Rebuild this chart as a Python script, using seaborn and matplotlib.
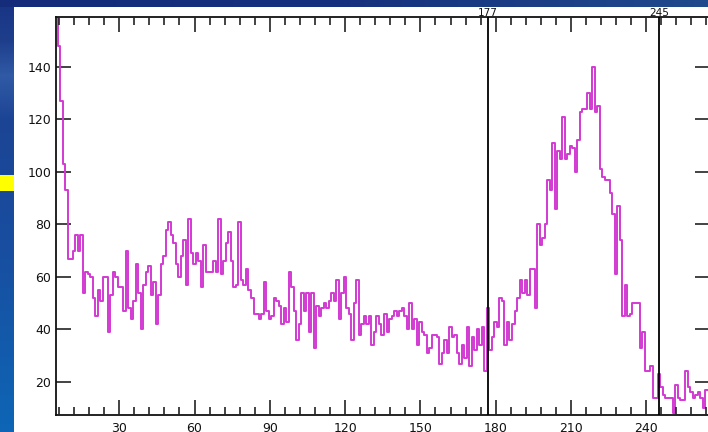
import numpy as np
import matplotlib
matplotlib.use('Agg')
import matplotlib.pyplot as plt
import seaborn as sns
from matplotlib.ticker import FixedLocator

# ---------------- data ----------------
channels = list(range(5, 265))
counts = [
    160, 148, 127, 103, 93, 67, 67, 70, 76, 70, 76,                      # 5-15
    54, 62, 61, 60, 52, 45, 55, 51, 60, 60, 39, 53, 62, 60, 56,          # 16-30
    56, 47, 70, 48, 44, 51, 65, 54, 40, 57, 62, 64, 53, 58, 42,          # 31-45
    53, 65, 68, 78, 81, 76, 73, 65, 60, 68, 74, 57, 82, 69, 65,          # 46-60
    69, 66, 56, 72, 62, 62, 62, 66, 62, 82, 61, 66, 73, 77, 66,          # 61-75
    56, 57, 81, 59, 57, 63, 55, 52, 46, 46, 44, 46, 58, 47, 44,          # 76-90
    45, 52, 51, 49, 42, 48, 43, 62, 56, 47, 36, 42, 54, 47, 54,          # 91-105
    39, 54, 33, 49, 45, 48, 50, 48, 51, 54, 51, 59, 44, 54, 60,          # 106-120
    48, 46, 36, 50, 59, 38, 42, 45, 42, 45, 34, 39, 45, 42, 38,          # 121-135
    46, 39, 44, 45, 47, 45, 47, 48, 45, 40, 50, 40, 44, 34, 43,          # 136-150
    39, 38, 31, 33, 38, 38, 37, 27, 31, 36, 31, 41, 37, 38, 31,          # 151-165
    27, 34, 29, 41, 26, 37, 32, 40, 34, 41, 24, 48, 32, 37, 43,          # 166-180
    41, 52, 51, 34, 43, 36, 42, 47, 52, 59, 54, 59, 53, 63, 63,          # 181-195
    48, 80, 72, 75, 80, 97, 93, 111, 86, 108, 105, 121, 105, 107, 110,   # 196-210
    109, 100, 112, 123, 124, 124, 130, 124, 140, 123, 125, 101, 98, 97, 97,  # 211-225
    92, 84, 61, 87, 74, 45, 57, 45, 46, 50, 50, 50, 33, 39, 24,          # 226-240
    24, 26, 14, 14, 23, 18, 15, 14, 14, 14, 8, 19, 14, 13, 13,           # 241-255
    24, 18, 16, 14, 15, 16, 14, 10, 17,                                  # 256-264
]
x_ticks = [30, 60, 90, 120, 150, 180, 210, 240]
x_minor_ticks = [6, 12, 18, 24, 36, 42, 48, 54, 66, 72, 78, 84, 96, 102, 108, 114,
                 126, 132, 138, 144, 156, 162, 168, 174, 186, 192, 198, 204,
                 216, 222, 228, 234, 246, 252, 258, 264]
y_ticks = [20, 40, 60, 80, 100, 120, 140]
marker_positions = [177, 245]
marker_labels = ['177', '245']

# ---------------- style ----------------
sns.set_theme(style='white')
plt.rcParams['font.family'] = ['DejaVu Sans']

W, H = 708, 432
fig = plt.figure(figsize=(W / 100, H / 100), dpi=100)

# slide background: blue gradient strips, white page, yellow marker
yy = np.arange(H)
xx = np.arange(W)
left_prof = np.stack([
    np.interp(yy, [0, 40, 75, 120, 250, 432], [24, 30, 48, 28, 24, 14]),
    np.interp(yy, [0, 40, 75, 120, 250, 432], [52, 62, 90, 68, 78, 102]),
    np.interp(yy, [0, 40, 75, 120, 250, 432], [132, 140, 165, 148, 160, 182]),
], axis=1) / 255.0
top_prof = np.stack([
    np.interp(xx, [0, 350, 708], [20, 22, 32]),
    np.interp(xx, [0, 350, 708], [44, 50, 74]),
    np.interp(xx, [0, 350, 708], [122, 126, 140]),
], axis=1) / 255.0
bg = np.ones((H, W, 3))
bg[:, :14, :] = left_prof[:, None, :]
bg[:7, :, :] = top_prof[None, :, :]
bg[175:191, :14, :] = [1.0, 1.0, 0.0]
bgax = fig.add_axes([0, 0, 1, 1], zorder=-1)
bgax.imshow(bg, aspect='auto', extent=(0, W, H, 0), interpolation='nearest')
bgax.set_axis_off()

# plot area
left_px, right_px, top_px, bottom_px = 55.5, 710, 17.3, 415
ax = fig.add_axes([left_px / W, (H - bottom_px) / H,
                   (right_px - left_px) / W, (bottom_px - top_px) / H])

sns.histplot(x=channels, weights=counts, discrete=True, element='step', fill=False,
             color='#d23ad2', linewidth=1.4, ax=ax)

for pos in marker_positions:
    ax.axvline(pos, color='black', lw=1.3, zorder=3)
for pos, lab in zip(marker_positions, marker_labels):
    ax.text(pos, 1.004, lab, transform=ax.get_xaxis_transform(), ha='center',
            va='baseline', fontsize=7.5, color='#111111', clip_on=False)

ax.set_xlim(4.6, 265.4)
ax.set_ylim(7.4, 158.9)
ax.set_xlabel('')
ax.set_ylabel('')

ax.xaxis.set_major_locator(FixedLocator(x_ticks))
ax.yaxis.set_major_locator(FixedLocator(y_ticks))
ax.set_xticklabels([str(v) for v in x_ticks])
ax.set_yticklabels([str(v) for v in y_ticks])

# x tick marks (inward, top and bottom) drawn on the x-axis transform
axis_h_px = bottom_px - top_px
maj_frac = 15.0 / axis_h_px
min_frac = 8.0 / axis_h_px
xtr = ax.get_xaxis_transform()
tick_style = dict(colors='#222222', linewidth=1.2, transform=xtr, clip_on=False, zorder=2.6)
ax.vlines(x_ticks, 0, maj_frac, **tick_style)
ax.vlines(x_ticks, 1 - maj_frac, 1, **tick_style)
ax.vlines(x_minor_ticks, 0, min_frac, **tick_style)
ax.vlines(x_minor_ticks, 1 - min_frac, 1, **tick_style)

ax.tick_params(axis='x', which='major', direction='in', bottom=True, top=False,
               length=0, labelsize=9, pad=5, labelcolor='#111111')
ax.tick_params(axis='y', which='major', direction='in', left=True, right=True,
               labelleft=True, labelright=False, length=11, width=1.2,
               color='#222222', labelsize=9, pad=3, labelcolor='#111111')

for sp in ax.spines.values():
    sp.set_visible(True)
    sp.set_color('#111111')
    sp.set_linewidth(1.3)

fig.savefig('out.png', dpi=100)
